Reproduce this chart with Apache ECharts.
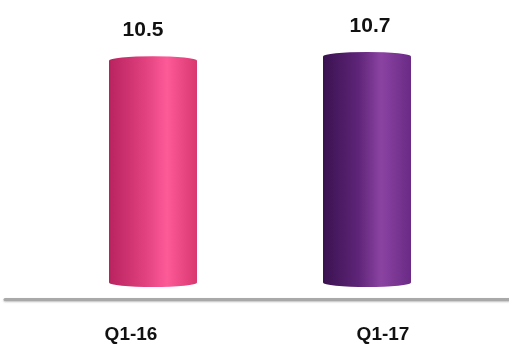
<!DOCTYPE html>
<html>
<head>
<meta charset="utf-8">
<title>Q1 bars</title>
<script src="https://cdn.jsdelivr.net/npm/echarts@6/dist/echarts.min.js"></script>
<style>
  html, body { margin: 0; padding: 0; background: #fff; }
  #main { width: 509px; height: 345px; }
</style>
</head>
<body>
<div id="main"></div>
<script>
var categories = ['Q1-16', 'Q1-17'];
var values = [10.5, 10.7];

// cylinder shading: dark edge -> highlight -> edge
var barColors = [
    ['#b8235f', '#e0407e', '#fd5a98', '#d8376f'],
    ['#3a1250', '#5e2478', '#8b43a2', '#6a2a86']
];
var labelShift = [-10, 3];

function shade(c) {
    return new echarts.graphic.LinearGradient(0, 0, 1, 0, [
        { offset: 0, color: c[0] },
        { offset: 0.4, color: c[1] },
        { offset: 0.66, color: c[2] },
        { offset: 1, color: c[3] }
    ]);
}

var chart = echarts.init(document.getElementById('main'));

var bodyData = values.map(function (v, i) {
    return {
        value: v,
        itemStyle: { color: shade(barColors[i]) },
        label: { offset: [labelShift[i], 0] }
    };
});
var capData = values.map(function (v, i) {
    return { value: v, itemStyle: { color: shade(barColors[i]) } };
});

chart.setOption({
    animation: false,
    grid: [
        { left: 5, right: 0, top: 29, bottom: 45.5 },
        { left: 46, right: 35, top: 29, bottom: 62.5 }
    ],
    xAxis: [
        {
            gridIndex: 0,
            type: 'category',
            data: categories,
            axisTick: { show: false },
            axisLine: {
                lineStyle: {
                    color: '#a9a9a9', width: 3,
                    shadowColor: 'rgba(0,0,0,0.25)', shadowBlur: 2, shadowOffsetY: 1
                }
            },
            axisLabel: {
                margin: 26,
                color: '#111',
                fontFamily: 'Liberation Sans',
                fontWeight: 'bold',
                fontSize: 19
            }
        },
        {
            gridIndex: 1,
            type: 'category',
            data: categories,
            show: false
        }
    ],
    yAxis: [
        { gridIndex: 0, type: 'value', min: 0, max: 12, show: false },
        { gridIndex: 1, type: 'value', min: 0, max: 12, show: false }
    ],
    series: [
        {
            type: 'bar',
            xAxisIndex: 1,
            yAxisIndex: 1,
            barWidth: 88,
            data: bodyData,
            z: 2,
            label: {
                show: true,
                position: 'top',
                distance: 20,
                color: '#111',
                fontFamily: 'Liberation Sans',
                fontWeight: 'bold',
                fontSize: 21
            }
        },
        {
            type: 'pictorialBar',
            xAxisIndex: 1,
            yAxisIndex: 1,
            symbol: 'circle',
            symbolSize: [88, 9],
            symbolPosition: 'end',
            symbolOffset: [0, '-50%'],
            data: capData,
            z: 3
        },
        {
            type: 'pictorialBar',
            xAxisIndex: 1,
            yAxisIndex: 1,
            symbol: 'circle',
            symbolSize: [88, 9],
            symbolPosition: 'start',
            symbolOffset: [0, '50%'],
            data: capData,
            z: 1
        }
    ]
});
</script>
</body>
</html>
